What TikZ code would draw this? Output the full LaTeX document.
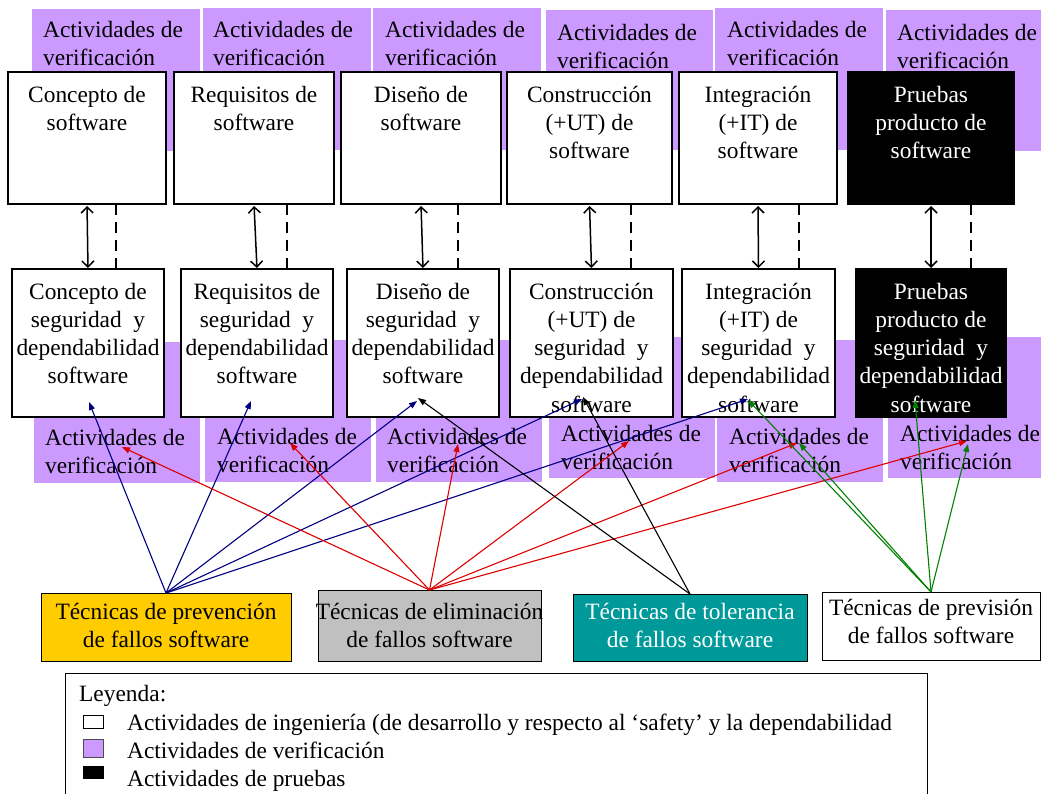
\documentclass[tikz,border=0pt]{standalone}
\usepackage{fontspec}
\setmainfont{Liberation Serif}
\usetikzlibrary{arrows.meta}
\definecolor{vpurple}{HTML}{CC99FF}
\definecolor{porange}{HTML}{FFCC00}
\definecolor{pgray}{HTML}{C0C0C0}
\definecolor{pteal}{HTML}{009999}
\definecolor{pnavy}{HTML}{000080}
\definecolor{pred}{HTML}{DD0000}
\definecolor{pgreen}{HTML}{008000}
\newcommand{\dfont}{\fontsize{23.4}{28.3}\selectfont}
\begin{document}
\begin{tikzpicture}[x=1pt,y=-1pt,
  vbox/.style={fill=vpurple, draw=none, inner sep=0, outer sep=0, anchor=north west},
  ebox/.style={draw=black, line width=1.3pt, fill=white, inner sep=0, outer sep=0, anchor=north west},
  tbox/.style={ebox, fill=black},
  ctext/.style={inner sep=0, align=center, font=\dfont, anchor=north},
  ltext/.style={inner sep=0, align=left, font=\dfont, anchor=north west},
  link/.style={-{Triangle[length=8pt,width=6pt]}, line width=1.1pt},
  dbl/.style={{Straight Barb[length=6pt,width=12pt]}-{Straight Barb[length=6pt,width=12pt]}, line width=1.5pt, shorten <=2pt, shorten >=1pt},
  dsh/.style={dash pattern=on 11pt off 7pt, line width=1.5pt}
]
\useasboundingbox (0,0) rectangle (1041,794);

% top verification boxes
\node[vbox, minimum width=168, minimum height=142] (V1) at (32,9) {};
\node[vbox, minimum width=168, minimum height=142] (V2) at (203,8) {};
\node[vbox, minimum width=168, minimum height=142] (V3) at (373,8) {};
\node[vbox, minimum width=167, minimum height=140] (V4) at (546,10) {};
\node[vbox, minimum width=168, minimum height=142] (V5) at (715,8) {};
\node[vbox, minimum width=160, minimum height=141] (V6) at (886,10) {};
\node[ltext] (V1t) at (43,17) {\strut Actividades de\\verificación};
\node[ltext] (V2t) at (213,17) {\strut Actividades de\\verificación};
\node[ltext] (V3t) at (385,17) {\strut Actividades de\\verificación};
\node[ltext] (V4t) at (557,20) {\strut Actividades de\\verificación};
\node[ltext] (V5t) at (727,17) {\strut Actividades de\\verificación};
\node[ltext] (V6t) at (897,20) {\strut Actividades de\\verificación};

% top engineering boxes
\node[ebox, minimum width=158, minimum height=132] (T1) at (8,72) {};
\node[ebox, minimum width=160, minimum height=132] (T2) at (174,72) {};
\node[ebox, minimum width=160, minimum height=132] (T3) at (341,72) {};
\node[ebox, minimum width=165, minimum height=132] (T4) at (507,72) {};
\node[ebox, minimum width=158, minimum height=132] (T5) at (679,72) {};
\node[tbox, minimum width=166, minimum height=132] (T6) at (848,72) {};
\node[ctext] (T1t) at (T1.north |- 0,82) {\strut Concepto de\\software};
\node[ctext] (T2t) at (T2.north |- 0,82) {\strut Requisitos de\\software};
\node[ctext] (T3t) at (T3.north |- 0,82) {\strut Diseño de\\software};
\node[ctext] (T4t) at (T4.north |- 0,82) {\strut Construcción\\(+UT) de\\software};
\node[ctext] (T5t) at (T5.north |- 0,82) {\strut Integración\\(+IT) de\\software};
\node[ctext, text=white] (T6t) at (T6.north |- 0,82) {\strut Pruebas\\producto de\\software};

% lower verification boxes
\node[vbox, minimum width=166, minimum height=141] (L1) at (34,342) {};
\node[vbox, minimum width=166, minimum height=142] (L2) at (205,340) {};
\node[vbox, minimum width=166, minimum height=142] (L3) at (376,340) {};
\node[vbox, minimum width=166, minimum height=141] (L4) at (549,337) {};
\node[vbox, minimum width=166, minimum height=142] (L5) at (717,340) {};
\node[vbox, minimum width=158, minimum height=141] (L6) at (888,337) {};

% middle boxes
\node[ebox, minimum width=152, minimum height=148] (M1) at (12,269) {};
\node[ebox, minimum width=152, minimum height=148] (M2) at (181,269) {};
\node[ebox, minimum width=152, minimum height=148] (M3) at (347,269) {};
\node[ebox, minimum width=163, minimum height=148] (M4) at (510,269) {};
\node[ebox, minimum width=153, minimum height=148] (M5) at (682,269) {};
\node[tbox, minimum width=150, minimum height=148] (M6) at (856,269) {};
\node[ctext] (M1t) at (M1.north |- 0,279) {\strut Concepto de\\seguridad\ \ y\\dependabilidad\\software};
\node[ctext] (M2t) at (M2.north |- 0,279) {\strut Requisitos de\\seguridad\ \ y\\dependabilidad\\software};
\node[ctext] (M3t) at (M3.north |- 0,279) {\strut Diseño de\\seguridad\ \ y\\dependabilidad\\software};
\node[ctext] (M4t) at (M4.north |- 0,279) {\strut Construcción\\(+UT) de\\seguridad\ \ y\\dependabilidad\\software};
\node[ctext] (M5t) at (M5.north |- 0,279) {\strut Integración\\(+IT) de\\seguridad\ \ y\\dependabilidad\\software};
\node[ctext, text=white] (M6t) at (M6.north |- 0,279) {\strut Pruebas\\producto de\\seguridad\ \ y\\dependabilidad\\software};

% lower verification texts
\node[ltext] (L1t) at (45,425) {\strut Actividades de\\verificación};
\node[ltext] (L2t) at (217,424) {\strut Actividades de\\verificación};
\node[ltext] (L3t) at (387,424) {\strut Actividades de\\verificación};
\node[ltext] (L4t) at (561,421) {\strut Actividades de\\verificación};
\node[ltext] (L5t) at (729,424) {\strut Actividades de\\verificación};
\node[ltext] (L6t) at (900,421) {\strut Actividades de\\verificación};

% vertical relations
\foreach \i/\d in {1/29,2/33,3/37,4/41.5,5/41,6/40}{
  \draw[dbl] (T\i.south) -- (M\i.north);
  \draw[dsh] ([xshift=\d pt]T\i.south) -- ([xshift=\d pt]T\i.south |- M\i.north);
}

% technique boxes
\node[ebox, fill=porange, line width=1pt, minimum width=250, minimum height=68] (B1) at (41,593) {};
\node[ebox, fill=pgray, line width=1pt, minimum width=223, minimum height=71] (B2) at (318,590) {};
\node[ebox, fill=pteal, line width=1pt, minimum width=234, minimum height=67] (B3) at (573,594) {};
\node[ebox, fill=white, line width=1pt, minimum width=218, minimum height=68] (B4) at (822,592) {};
\node[ctext] (B1t) at (B1.north |- 0,599) {\strut Técnicas de prevención\\de fallos software};
\node[ctext] (B2t) at (B2.north |- 0,599) {\strut Técnicas de eliminación\\de fallos software};
\node[ctext, text=white] (B3t) at (B3.north |- 0,599) {\strut Técnicas de tolerancia\\de fallos software};
\node[ctext] (B4t) at (B4.north |- 0,595) {\strut Técnicas de previsión\\de fallos software};

% arrow targets
\coordinate (pa1) at (89,402);
\coordinate (pa2) at (251,401);
\coordinate (pa3) at (417,401);
\coordinate (pa4) at (582,399);
\coordinate (pa5) at (748,399);
\coordinate (ea1) at (122,447);
\coordinate (ea2) at (290,443);
\coordinate (ea3) at (458,444);
\coordinate (ea4) at (629,441);
\coordinate (ea5) at (797,443);
\coordinate (ea6) at (967,441);
\coordinate (ta1) at (418,398);
\coordinate (ta2) at (583,397);
\coordinate (fa1) at (748,400);
\coordinate (fa2) at (799,443);
\coordinate (fa3) at (915,400);
\coordinate (fa4) at (968,444);

\foreach \t in {pa1,pa2,pa3,pa4,pa5} \draw[link, pnavy] (B1.north) -- (\t);
\foreach \t in {ea1,ea2,ea3,ea4,ea5,ea6} \draw[link, pred] (B2.north) -- (\t);
\foreach \t in {ta1,ta2} \draw[link, black] (B3.north) -- (\t);
\foreach \t in {fa1,fa2,fa3,fa4} \draw[link, pgreen] (B4.north) -- (\t);

% legend
\node[ebox, line width=1pt, minimum width=862, minimum height=140] (LG) at (65,673) {};
\node[ltext] (LGt) at (79,681) {\strut Leyenda:};
\node[ebox, line width=1pt, minimum width=20, minimum height=13] (S1) at (83,715) {};
\node[ebox, line width=1pt, fill=vpurple, draw=black!70, minimum width=20, minimum height=18] (S2) at (83,739) {};
\node[ebox, line width=1pt, fill=black, minimum width=20, minimum height=12] (S3) at (83,766) {};
\node[ltext] (S1t) at (127,710) {\strut Actividades de ingeniería (de desarrollo y respecto al ‘safety’ y la dependabilidad};
\node[ltext] (S2t) at (127,738) {\strut Actividades de verificación};
\node[ltext] (S3t) at (127,766) {\strut Actividades de pruebas};
\end{tikzpicture}
\end{document}
